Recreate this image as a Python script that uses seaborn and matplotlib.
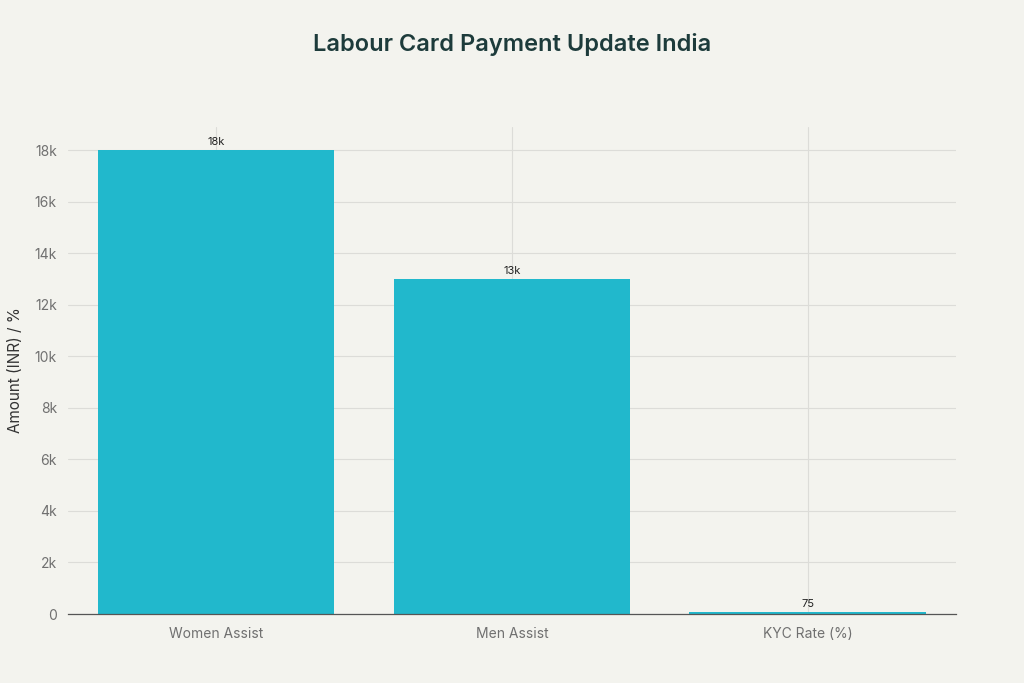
import matplotlib
matplotlib.use("Agg")
import matplotlib.pyplot as plt
import matplotlib.ticker as mticker
import seaborn as sns
import pandas as pd

categories = ["Women Assist", "Men Assist", "KYC Rate (%)"]
values = [18000, 13000, 75]
bar_labels = ["18k", "13k", "75"]

bg = "#f3f3ee"
bar_color = "#21b8cc"

sns.set_theme(style="whitegrid")
plt.rcParams["font.family"] = ["Inter", "DejaVu Sans"]

df = pd.DataFrame({"category": categories, "value": values})

fig = plt.figure(figsize=(10.24, 6.83), dpi=100, facecolor=bg)
ax = fig.add_axes([0.0664, 0.101, 0.867, 0.713])
ax.set_facecolor(bg)

sns.barplot(data=df, x="category", y="value", color=bar_color, width=0.8,
            saturation=1, linewidth=0, edgecolor=bar_color, ax=ax, zorder=2)

for cont in ax.containers:
    ax.bar_label(cont, labels=bar_labels, padding=2, fontsize=8, color="#222222")

ax.set_xlim(-0.5, 2.5)
ax.set_ylim(0, 18900)
ax.yaxis.set_major_locator(mticker.MultipleLocator(2000))
ax.yaxis.set_major_formatter(mticker.FuncFormatter(lambda v, p: "0" if v == 0 else f"{int(v/1000)}k"))

ax.grid(True, axis="both", color="#dcdcd8", linewidth=0.8, zorder=0)
ax.set_axisbelow(True)
for s in ["top", "right", "left"]:
    ax.spines[s].set_visible(False)
ax.spines["bottom"].set_color("#555555")
ax.spines["bottom"].set_linewidth(0.9)

ax.tick_params(axis="both", length=0, labelsize=10, labelcolor="#707070")
ax.tick_params(axis="x", pad=9)
ax.tick_params(axis="y", pad=8)
ax.set_xlabel("")
ax.set_ylabel("Amount (INR) / %", fontsize=11, color="#333333", labelpad=8)

fig.suptitle("Labour Card Payment Update India", x=0.5, y=0.952, fontsize=17,
             fontweight="semibold", color="#1d3b3b")

fig.savefig("out.png", dpi=100, facecolor=bg)
